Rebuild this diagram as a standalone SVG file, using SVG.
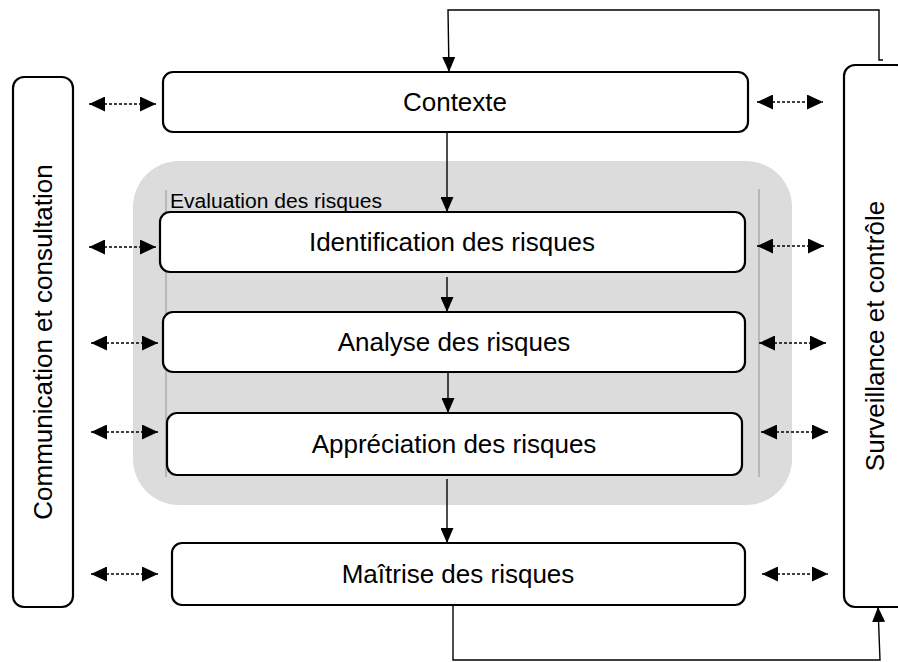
<svg xmlns="http://www.w3.org/2000/svg" width="898" height="662" viewBox="0 0 898 662">
  <style>
    .box { fill: #fff; stroke: #000; stroke-width: 2.2; }
    .lbl { font-family: "Liberation Sans", Arial, sans-serif; font-size: 26px; fill: #000; text-anchor: middle; }
    .flow { fill: none; stroke: #000; stroke-width: 1.4; }
    .dash { fill: none; stroke: #000; stroke-width: 1.3; stroke-dasharray: 3 2; }
    .rule { stroke: #a0a0a0; stroke-width: 1.2; }
  </style>
  <defs>
    <marker id="tip" viewBox="0 0 15 13" refX="15" refY="6.5" markerWidth="15" markerHeight="13" markerUnits="userSpaceOnUse" orient="auto-start-reverse">
      <path d="M0,0 L15,6.5 L0,13 Z" fill="#000"/>
    </marker>
    <marker id="head" viewBox="0 0 16 15" refX="16" refY="7.5" markerWidth="16" markerHeight="15" markerUnits="userSpaceOnUse" orient="auto-start-reverse">
      <path d="M0,0 L16,7.5 L0,15 Z" fill="#000"/>
    </marker>
  </defs>

  <!-- grey band grouping the risk evaluation steps -->
  <g id="evaluation">
    <rect x="133" y="161" width="659" height="344" rx="46" fill="#dcdcdc"/>
    <line class="rule" x1="166" y1="190" x2="166" y2="477"/>
    <line class="rule" x1="759" y1="189" x2="759" y2="477"/>
    <text x="170" y="208" font-family="Liberation Sans, Arial, sans-serif" font-size="20" textLength="212" lengthAdjust="spacingAndGlyphs" fill="#000">Evaluation des risques</text>
  </g>

  <g id="communication">
    <rect class="box" x="13" y="77" width="60" height="530" rx="11"/>
    <text class="lbl" transform="translate(52,342) rotate(-90)">Communication et consultation</text>
  </g>

  <g id="surveillance">
    <rect class="box" x="844" y="65" width="64" height="542" rx="11"/>
    <text class="lbl" transform="translate(884,336) rotate(-90)">Surveillance et contrôle</text>
  </g>

  <g id="contexte">
    <rect class="box" x="163" y="72" width="585" height="60" rx="10"/>
    <text class="lbl" x="455" y="111">Contexte</text>
  </g>

  <g id="identification">
    <rect class="box" x="160" y="212" width="585" height="60" rx="10"/>
    <text class="lbl" x="452" y="251">Identification des risques</text>
  </g>

  <g id="analyse">
    <rect class="box" x="163" y="312" width="582" height="60" rx="10"/>
    <text class="lbl" x="454" y="351">Analyse des risques</text>
  </g>

  <g id="appreciation">
    <rect class="box" x="167" y="413" width="575" height="62" rx="10"/>
    <text class="lbl" x="454" y="453">Appréciation des risques</text>
  </g>

  <g id="maitrise">
    <rect class="box" x="172" y="543" width="573" height="62" rx="10"/>
    <text class="lbl" x="458" y="583">Maîtrise des risques</text>
  </g>

  <g id="connectors">
    <!-- main sequence -->
    <line class="flow" x1="447" y1="132" x2="447" y2="212" marker-end="url(#tip)"/>
    <line class="flow" x1="447" y1="277" x2="447" y2="312" marker-end="url(#tip)"/>
    <line class="flow" x1="448" y1="372" x2="448" y2="413" marker-end="url(#tip)"/>
    <line class="flow" x1="447" y1="479" x2="447" y2="543" marker-end="url(#tip)"/>
    <!-- monitoring loops -->
    <polyline class="flow" points="883,60 879,60 879,10 448,10 449,72" marker-end="url(#tip)"/>
    <polyline class="flow" points="453,604 453,660 880,660 878,607" marker-end="url(#tip)"/>
    <!-- exchanges with communication -->
    <line class="dash" x1="89" y1="104" x2="156" y2="104" marker-start="url(#head)" marker-end="url(#head)"/>
    <line class="dash" x1="89" y1="247" x2="156" y2="247" marker-start="url(#head)" marker-end="url(#head)"/>
    <line class="dash" x1="91" y1="343" x2="158" y2="343" marker-start="url(#head)" marker-end="url(#head)"/>
    <line class="dash" x1="91" y1="432" x2="158" y2="432" marker-start="url(#head)" marker-end="url(#head)"/>
    <line class="dash" x1="91" y1="574" x2="158" y2="574" marker-start="url(#head)" marker-end="url(#head)"/>
    <!-- exchanges with monitoring -->
    <line class="dash" x1="757" y1="102" x2="823" y2="102" marker-start="url(#head)" marker-end="url(#head)"/>
    <line class="dash" x1="757" y1="246" x2="824" y2="246" marker-start="url(#head)" marker-end="url(#head)"/>
    <line class="dash" x1="759" y1="343" x2="826" y2="343" marker-start="url(#head)" marker-end="url(#head)"/>
    <line class="dash" x1="761" y1="432" x2="828" y2="432" marker-start="url(#head)" marker-end="url(#head)"/>
    <line class="dash" x1="762" y1="574" x2="828" y2="574" marker-start="url(#head)" marker-end="url(#head)"/>
  </g>
</svg>
